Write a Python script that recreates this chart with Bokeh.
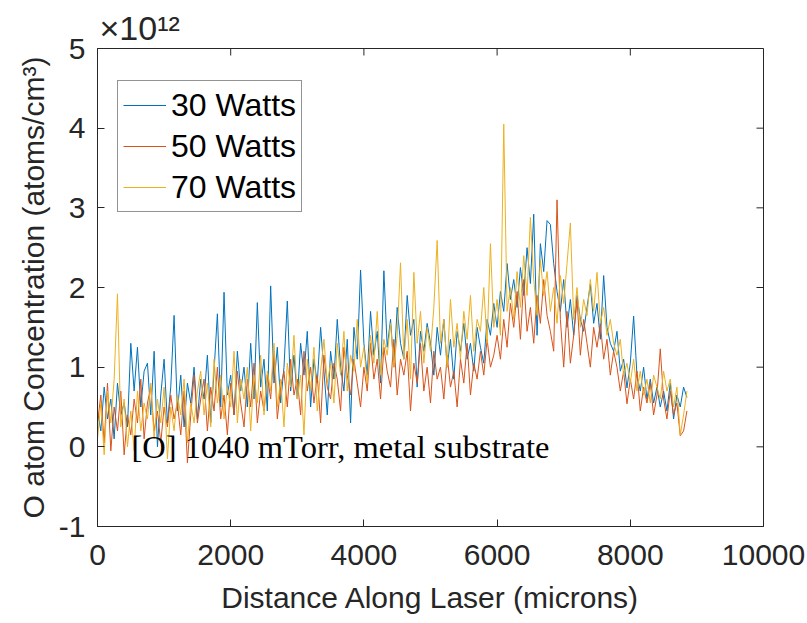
import numpy as np
from bokeh.plotting import figure
from bokeh.models import Label, Legend, LegendItem, FixedTicker
from bokeh.embed import file_html
from bokeh.resources import INLINE

# Distance grid (microns), 50-micron sampling
distance = np.arange(0, 8851, 50)

# O atom concentration, in units of 1e12 atoms/cm^3
watts30 = [
    0.45, 0.2, 0.75, 0.35, 0.6, 0.1, 0.8, 0.4, 0.55, 0.25,
    1.3, 0.7, 1.25, 0.5, 0.95, 1.05, 0.4, 1.2, 0.0, 0.65,
    1.1, 0.3, 0.75, 1.65, 0.45, 0.9, 0.25, 0.8, 0.55, 1.0,
    0.35, 0.85, 0.6, 1.15, 0.3, 0.95, 1.67, 0.5, 1.94, 0.65,
    0.9, 0.4, 1.2, 0.7, 1.0, 0.5, 1.3, 0.6, 1.81, 0.75,
    1.1, 0.45, 2.02, 0.8, 1.25, 0.55, 1.0, 1.83, 0.7, 1.15,
    0.6, 1.3, 0.9, 1.45, 0.5, 1.1, 0.8, 1.5, 0.95, 0.4,
    1.2, 0.85, 1.6, 1.0, 0.7, 1.35, 0.3, 1.5, 1.1, 2.22,
    1.3, 0.9, 1.7, 1.15, 1.45, 0.8, 2.21, 1.25, 1.6, 1.0,
    1.75, 1.3, 1.1, 1.9, 1.4, 1.6, 0.75, 1.45, 1.2, 1.55,
    1.3, 0.9, 1.5, 1.15, 1.6, 1.0, 1.35, 0.85, 1.45, 1.2,
    1.55, 1.1, 1.3, 0.95, 1.5, 1.25, 1.05, 1.6, 1.4, 1.8,
    1.5, 1.95, 1.7, 2.3, 1.85, 2.1, 1.75, 2.25, 1.9, 2.5,
    2.05, 2.92, 1.4, 2.55, 2.2, 2.84, 2.79, 2.3, 1.95, 1.7,
    2.1, 1.5, 1.85, 1.4, 1.9, 1.6, 1.45, 1.75, 2.04, 1.55,
    1.8, 1.35, 2.15, 1.5, 1.3, 1.2, 1.45, 0.95, 1.1, 0.74,
    1.05, 1.64, 0.9, 0.7, 1.0, 0.6, 0.85, 0.55, 0.75, 0.5,
    0.7, 0.45, 0.8, 0.35, 0.65, 0.5, 0.75, 0.62,
]

watts50 = [
    0.3, 0.65, 0.05, 0.8, -0.05, 0.5, 0.2, 0.7, -0.1, 0.4,
    0.15, 0.6, 0.3, 0.85, 0.1, 0.55, 0.75, 0.2, 0.45, 0.05,
    0.5, 0.25, 0.65, 0.35, 0.55, 0.15, 0.7, -0.2, 0.4, 0.9,
    0.3, 0.6, 0.85, 0.2, 0.75, 0.45, 1.0, 0.35, 0.65, 0.15,
    0.8, 0.4, 0.95, 0.55, 0.25, 0.85, 0.5, 1.05, 0.3, 0.7,
    0.45, 0.9, 0.6, 1.2, 0.35, 0.75, 0.95, 0.5, 1.1, 0.65,
    0.85, 0.4, 1.2, 0.7, 1.0, 0.55, 0.9, 0.3, 1.15, 0.75,
    0.6, 1.05, 0.85, 0.45, 1.25, 0.9, 0.65, 1.1, 0.8, 0.5,
    1.0, 0.7, 1.3, 0.85, 1.1, 0.6, 1.25, 0.95, 0.75, 1.35,
    0.65, 1.1, 0.9, 1.2, 0.45, 1.05, 0.8, 1.3, 0.7, 1.0,
    0.55, 1.2, 0.85, 1.0, 0.6, 1.15, 0.75, 0.95, 0.5, 1.1,
    0.8, 1.3, 0.65, 1.05, 0.85, 1.2, 0.9, 1.35, 1.0, 1.15,
    1.4, 1.1, 1.6, 1.25, 1.8, 1.5, 1.95, 1.35, 2.1, 1.45,
    1.75, 1.3, 1.9, 1.55, 2.1, 1.65, 1.45, 1.2, 3.1, 1.6,
    1.0, 1.7, 1.05, 1.4, 1.85, 1.15, 1.6, 1.3, 1.0, 1.5,
    1.25, 1.55, 1.1, 1.35, 0.9, 1.2, 1.0, 0.7, 0.95, 0.54,
    0.85, 0.6, 0.95, 0.45, 0.75, 0.55, 0.8, 0.4, 0.65, 1.23,
    0.6, 0.35, 0.7, 0.4, 0.55, 0.14, 0.2, 0.45,
]

watts70 = [
    0.1, 0.55, -0.1, 0.7, 0.3, 0.85, 1.92, 0.25, 0.6, 0.0,
    0.45, -0.05, 0.7, 0.2, 0.55, 0.35, 0.8, 0.1, 0.6, 0.3,
    0.75, -0.15, 0.5, 0.2, 0.65, 0.4, 0.85, 0.05, 0.55, 0.3,
    0.7, 0.95, 0.4, 0.8, 0.25, 1.1, 0.55, 0.9, 0.35, 0.75,
    0.5, 1.2, 0.3, 0.85, 0.6, 1.0, 0.2, 0.9, 0.55, 1.15,
    0.4, 0.95, 0.7, 1.3, 0.5, 0.85, 0.25, 1.05, 0.75, 1.4,
    0.6, 0.9, 0.15, 1.1, 0.7, 1.25, 0.45, 0.95, 1.35, 0.8,
    1.05, 0.55, 1.3, 0.9, 1.45, 0.7, 1.15, 0.95, 1.6, 1.0,
    1.25, 0.8, 1.4, 1.05, 1.7, 0.9, 1.35, 1.15, 1.55, 1.0,
    1.4, 2.31, 1.1, 1.6, 0.85, 2.19, 1.3, 1.7, 1.05, 1.5,
    1.2, 1.75, 2.59, 1.3, 1.6, 1.0, 1.85, 1.25, 1.55, 1.1,
    1.7, 1.35, 1.9, 1.2, 1.6, 1.45, 2.0, 1.3, 2.55, 1.5,
    1.85, 1.4, 4.05, 1.7, 2.0, 1.6, 2.2, 1.75, 2.4, 1.9,
    2.88, 2.1, 1.65, 2.35, 1.9, 2.2, 1.7, 2.0, 1.55, 2.15,
    1.8, 2.3, 2.81, 1.6, 2.0, 1.5, 1.85, 1.65, 2.1, 1.7,
    2.19, 1.55, 1.75, 1.4, 1.6, 1.3, 1.15, 1.35, 0.9, 1.05,
    0.8, 1.1, 0.7, 0.95, 0.65, 0.85, 0.55, 0.9, 0.75, 0.6,
    0.95, 0.7, 0.85, 0.5, 0.75, 0.15, 0.4, 0.7,
]

series_labels = ["30 Watts", "50 Watts", "70 Watts"]
series_colors = ["#0072BD", "#D95319", "#EDB120"]
x_ticks = [0, 2000, 4000, 6000, 8000, 10000]
y_ticks = [-1, 0, 1, 2, 3, 4, 5]
x_max, y_min, y_max = 10000, -1, 5

AX = "#262626"
SANS = "Liberation Sans"
FS = "30px"
TICK_LEN = 7

p = figure(width=807, height=623, x_range=(0, x_max), y_range=(y_min, y_max),
           output_backend="svg", toolbar_location=None,
           min_border_left=97, min_border_right=44,
           min_border_top=48, min_border_bottom=97,
           title="×10¹²")
p.title.text_font = SANS
p.title.text_font_size = "34px"
p.title.text_font_style = "normal"
p.title.text_color = AX
p.title.align = "left"
p.title.offset = 2
p.title.standoff = 4
p.grid.visible = False
p.outline_line_color = AX
p.outline_line_width = 1
p.background_fill_color = "white"
p.border_fill_color = "white"

renderers = []
for ys, c in zip([watts30, watts50, watts70], series_colors):
    r = p.line(distance, ys, line_color=c, line_width=1)
    renderers.append(r)

for ax in (p.xaxis[0], p.yaxis[0]):
    ax.major_tick_in = TICK_LEN
    ax.major_tick_out = 0
    ax.minor_tick_line_color = None
    ax.axis_line_color = AX
    ax.major_tick_line_color = AX
    ax.major_label_text_color = AX
    ax.major_label_text_font = SANS
    ax.major_label_text_font_size = FS
    ax.axis_label_text_font = SANS
    ax.axis_label_text_font_size = FS
    ax.axis_label_text_font_style = "normal"
    ax.axis_label_text_color = AX

p.xaxis[0].ticker = FixedTicker(ticks=x_ticks)
p.yaxis[0].ticker = FixedTicker(ticks=y_ticks)
p.xaxis[0].major_label_overrides = {t: str(t) for t in x_ticks}
p.yaxis[0].major_label_overrides = {t: str(t) for t in y_ticks}
p.xaxis[0].axis_label = "Distance Along Laser (microns)"
p.yaxis[0].axis_label = "O atom Concentration (atoms/cm³)"
p.xaxis[0].major_label_standoff = 18
p.yaxis[0].major_label_standoff = 12
p.xaxis[0].axis_label_standoff = 13
p.yaxis[0].axis_label_standoff = 6

# box ticks on the top and right edges (from the tick lists)
p.ray(x=x_ticks, y=[y_max] * len(x_ticks), length=TICK_LEN, length_units="screen",
      angle=-np.pi / 2, line_color=AX, line_width=1)
p.ray(x=[x_max] * len(y_ticks), y=y_ticks, length=TICK_LEN, length_units="screen",
      angle=np.pi, line_color=AX, line_width=1)

legend = Legend(items=[LegendItem(label=l, renderers=[r]) for l, r in zip(series_labels, renderers)],
                location=(20, 314))
legend.label_text_font = SANS
legend.label_text_font_size = "32px"
legend.label_text_color = "black"
legend.border_line_color = AX
legend.border_line_width = 1
legend.background_fill_color = "white"
legend.background_fill_alpha = 1
legend.glyph_width = 43
legend.glyph_height = 38
legend.label_height = 38
legend.label_standoff = 5
legend.spacing = 3
legend.padding = 5
legend.margin = 0
p.add_layout(legend)

p.add_layout(Label(x=510, y=0, text="[O] 1040 mTorr, metal substrate",
                   text_font="Liberation Serif", text_font_size="32.5px",
                   text_color="black", text_baseline="middle"))

open("out.html", "w").write(file_html(p, INLINE))
